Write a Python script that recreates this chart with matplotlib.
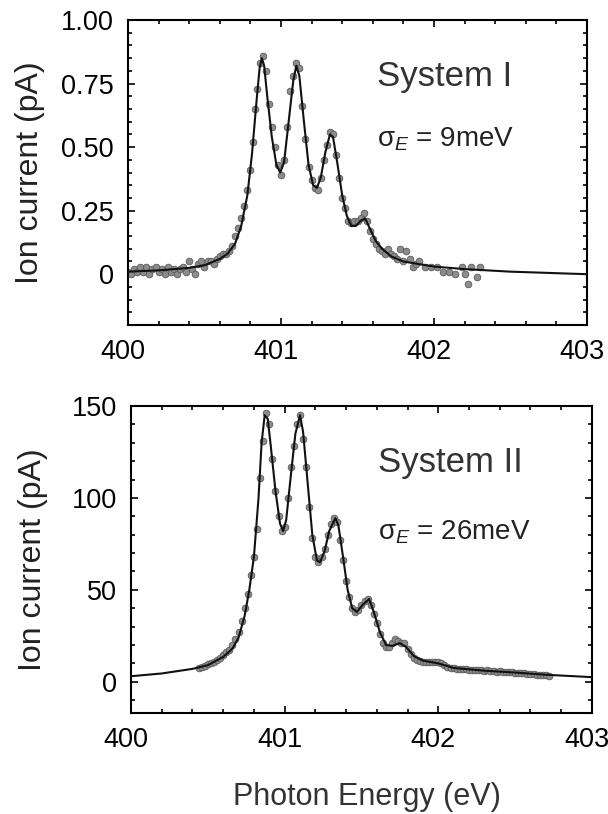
import numpy as np
import matplotlib
matplotlib.use("Agg")
import matplotlib.pyplot as plt
import matplotlib.transforms as mtrans
from matplotlib.ticker import MultipleLocator, FixedLocator

plt.rcParams['font.family'] = ['Liberation Sans', 'DejaVu Sans']
plt.rcParams['mathtext.fontset'] = 'custom'
plt.rcParams['mathtext.rm'] = 'Liberation Sans'
plt.rcParams['mathtext.it'] = 'Liberation Sans:italic'

# System I, measured points (photon energy in eV, ion current in pA)
e1_pts = [400.00, 400.02, 400.04, 400.06, 400.08, 400.10, 400.12, 400.14, 400.16, 400.18,
          400.20, 400.22, 400.24, 400.26, 400.28, 400.30, 400.32, 400.34, 400.36, 400.38,
          400.40, 400.42, 400.44, 400.46, 400.48, 400.50, 400.52, 400.54, 400.56, 400.58,
          400.60, 400.62, 400.64, 400.66, 400.68, 400.70, 400.72, 400.74, 400.76, 400.78,
          400.80, 400.82, 400.83, 400.84, 400.86, 400.88, 400.90, 400.92, 400.94, 400.96,
          400.98, 401.00, 401.02, 401.04, 401.06, 401.08, 401.10, 401.12, 401.14, 401.16,
          401.18, 401.20, 401.22, 401.24, 401.26, 401.28, 401.30, 401.32, 401.34, 401.36,
          401.38, 401.40, 401.42, 401.44, 401.46, 401.48, 401.50, 401.52, 401.54, 401.56,
          401.58, 401.60, 401.62, 401.64, 401.66, 401.68, 401.70, 401.72, 401.74, 401.76,
          401.78, 401.80, 401.82, 401.84, 401.86, 401.88, 401.90, 401.94, 401.98, 402.02,
          402.06, 402.10, 402.14, 402.18, 402.20, 402.22, 402.24, 402.28, 402.30]
i1_pts = [0.01, 0.00, 0.02, 0.01, 0.03, 0.01, 0.03, 0.00, 0.02, 0.03,
          0.01, 0.02, 0.00, 0.03, 0.01, 0.02, 0.00, 0.02, 0.03, 0.01,
          0.05, 0.02, 0.00, 0.04, 0.05, 0.03, 0.05, 0.05, 0.04, 0.06,
          0.07, 0.08, 0.08, 0.09, 0.11, 0.15, 0.18, 0.22, 0.27, 0.33,
          0.41, 0.52, 0.65, 0.73, 0.83, 0.86, 0.80, 0.67, 0.58, 0.50,
          0.43, 0.39, 0.45, 0.58, 0.72, 0.78, 0.83, 0.81, 0.66, 0.53,
          0.42, 0.37, 0.34, 0.33, 0.38, 0.45, 0.51, 0.56, 0.55, 0.47,
          0.38, 0.30, 0.26, 0.21, 0.20, 0.21, 0.21, 0.22, 0.24, 0.21,
          0.17, 0.14, 0.12, 0.10, 0.09, 0.08, 0.10, 0.08, 0.07, 0.06,
          0.10, 0.05, 0.09, 0.06, 0.03, 0.04, 0.05, 0.03, 0.03, 0.03,
          0.01, 0.01, 0.00, 0.03, 0.00, -0.04, 0.03, -0.01, 0.03]

# System I, fitted curve
e1_fit = [400.00, 400.20, 400.40, 400.50, 400.60, 400.65, 400.70, 400.74, 400.78, 400.81,
          400.84, 400.86, 400.875, 400.89, 400.91, 400.94, 400.97, 400.995, 401.02, 401.05,
          401.08, 401.10, 401.12, 401.15, 401.18, 401.21, 401.235, 401.26, 401.29, 401.32,
          401.34, 401.37, 401.40, 401.43, 401.46, 401.49, 401.52, 401.55, 401.58, 401.62,
          401.66, 401.72, 401.80, 401.90, 402.00, 402.20, 402.50, 403.00]
i1_fit = [0.010, 0.015, 0.025, 0.035, 0.060, 0.080, 0.120, 0.190, 0.310, 0.470,
          0.680, 0.810, 0.850, 0.820, 0.700, 0.540, 0.430, 0.400, 0.440, 0.600,
          0.760, 0.820, 0.780, 0.600, 0.430, 0.350, 0.340, 0.380, 0.480, 0.550,
          0.540, 0.430, 0.310, 0.230, 0.190, 0.190, 0.210, 0.220, 0.180, 0.130,
          0.100, 0.070, 0.050, 0.040, 0.030, 0.020, 0.010, 0.000]

# System II, measured points
e2_pts = [400.44, 400.46, 400.48, 400.50, 400.52, 400.54, 400.56, 400.58, 400.60, 400.62,
          400.64, 400.66, 400.68, 400.70, 400.72, 400.74, 400.76, 400.78, 400.80, 400.82,
          400.84, 400.86, 400.88, 400.90, 400.92, 400.94, 400.96, 400.98, 401.00, 401.02,
          401.04, 401.06, 401.08, 401.10, 401.12, 401.14, 401.16, 401.18, 401.20, 401.22,
          401.24, 401.26, 401.28, 401.30, 401.32, 401.34, 401.36, 401.38, 401.40, 401.42,
          401.44, 401.46, 401.48, 401.50, 401.52, 401.54, 401.56, 401.58, 401.60, 401.62,
          401.64, 401.66, 401.68, 401.70, 401.72, 401.74, 401.76, 401.78, 401.80, 401.82,
          401.84, 401.86, 401.88, 401.90, 401.92, 401.94, 401.96, 401.98, 402.00, 402.02,
          402.04, 402.06, 402.08, 402.10, 402.12, 402.14, 402.16, 402.18, 402.20, 402.22,
          402.24, 402.26, 402.28, 402.30, 402.32, 402.34, 402.36, 402.38, 402.40, 402.42,
          402.44, 402.46, 402.48, 402.50, 402.52, 402.54, 402.56, 402.58, 402.60, 402.62,
          402.64, 402.66, 402.68, 402.70, 402.72]
i2_pts = [7.5, 8.0, 8.5, 9.5, 10.0, 11.0, 12.0, 13.0, 14.5, 16.0,
          17.5, 20.0, 23.0, 27.0, 33.0, 40.0, 48.0, 58.0, 68.0, 83.0,
          111.0, 131.0, 146.0, 140.0, 121.0, 104.0, 90.0, 82.0, 84.0, 100.0,
          117.0, 128.0, 140.0, 145.0, 132.0, 117.0, 95.0, 78.0, 68.0, 65.0,
          68.0, 72.0, 80.0, 86.0, 89.0, 87.0, 77.0, 66.0, 55.0, 46.0,
          40.0, 38.0, 39.0, 42.0, 44.0, 45.0, 42.0, 37.0, 32.0, 26.0,
          21.0, 19.0, 19.0, 21.0, 23.0, 22.0, 21.0, 21.0, 18.0, 15.0,
          13.0, 12.0, 11.5, 11.0, 11.0, 11.0, 11.0, 11.0, 10.5, 10.0,
          9.0, 8.0, 7.5, 7.3, 7.0, 7.0, 6.8, 6.7, 6.5, 6.5,
          6.3, 6.3, 6.5, 6.0, 6.2, 5.8, 6.0, 5.5, 5.6, 5.4,
          5.2, 5.3, 5.5, 5.0, 4.8, 4.7, 4.5, 4.4, 4.2, 4.0,
          3.9, 3.8, 3.7, 3.5, 3.3]

# System II, fitted curve
e2_fit = [400.00, 400.20, 400.40, 400.50, 400.60, 400.66, 400.70, 400.74, 400.77, 400.80,
          400.83, 400.85, 400.87, 400.89, 400.91, 400.94, 400.97, 400.99, 401.01, 401.04,
          401.07, 401.10, 401.12, 401.15, 401.18, 401.21, 401.23, 401.26, 401.29, 401.33,
          401.35, 401.38, 401.41, 401.44, 401.47, 401.51, 401.55, 401.58, 401.62, 401.66,
          401.70, 401.75, 401.79, 401.84, 401.90, 402.00, 402.10, 402.30, 402.50, 402.70,
          403.00]
i2_fit = [3.0, 4.5, 7.0, 9.0, 13.5, 18.0, 24.0, 36.0, 50.0, 68.0,
          100.0, 130.0, 145.0, 143.0, 128.0, 104.0, 86.0, 82.0, 88.0, 112.0,
          135.0, 145.0, 136.0, 108.0, 80.0, 66.0, 65.0, 71.0, 82.0, 89.0,
          85.0, 68.0, 50.0, 40.0, 38.0, 42.0, 45.0, 38.0, 27.0, 20.0,
          19.5, 21.0, 19.0, 14.0, 11.5, 10.0, 7.5, 6.0, 5.0, 3.8,
          2.5]

labels = ["System I", "System II"]
sigmas = ["σ$_E$ = 9meV", "σ$_E$ = 26meV"]


def style_axis(fig, ax, ymin, yticks, yticklabels, ylim):
    ax.set_xlim(400, 403)
    ax.set_ylim(*ylim)
    ax.xaxis.set_major_locator(FixedLocator([400, 401, 402, 403]))
    ax.xaxis.set_minor_locator(MultipleLocator(0.2))
    ax.set_xticklabels(["400", "401", "402", "403"])
    ax.yaxis.set_major_locator(FixedLocator(yticks))
    ax.set_yticklabels(yticklabels)
    ax.yaxis.set_minor_locator(MultipleLocator(ymin))
    ax.tick_params(which="both", direction="in", top=True, right=True, width=1.2)
    ax.tick_params(which="major", length=5, labelsize=19.5, pad=10)
    ax.tick_params(which="minor", length=3)
    for s in ax.spines.values():
        s.set_linewidth(1.5)
    # x tick labels sit a little left of their ticks in the original
    shift = mtrans.ScaledTranslation(-5 / 100, 0, fig.dpi_scale_trans)
    for lab in ax.get_xticklabels():
        lab.set_transform(lab.get_transform() + shift)
    ax.set_ylabel("Ion current (pA)", fontsize=23, color="#222222")
    ax.yaxis.set_label_coords(-0.18, 0.5)


fig = plt.figure(figsize=(6.08, 8.14), dpi=100)

ax1 = fig.add_axes([0.2105, 0.6007, 0.755, 0.3747])
ax1.plot(e1_pts, i1_pts, "o", color="#8c8c8c", mec="#5a5a5a", mew=0.6, ms=4.8, zorder=2)
ax1.plot(e1_fit, i1_fit, "-", color="#111111", lw=1.5, zorder=3)
style_axis(fig, ax1, 0.05, [0, 0.25, 0.5, 0.75, 1.0],
           ["0", "0.25", "0.50", "0.75", "1.00"], (-0.2, 1.0))
ax1.text(0.543, 0.815, labels[0], transform=ax1.transAxes, fontsize=25,
         color="#333333", va="center")
ax1.text(0.543, 0.61, sigmas[0], transform=ax1.transAxes, fontsize=20,
         color="#222222", va="center")

ax2 = fig.add_axes([0.2155, 0.1241, 0.758, 0.3771])
ax2.plot(e2_pts, i2_pts, "o", color="#8c8c8c", mec="#5a5a5a", mew=0.6, ms=4.8, zorder=2)
ax2.plot(e2_fit, i2_fit, "-", color="#111111", lw=1.5, zorder=3)
style_axis(fig, ax2, 10, [0, 50, 100, 150], ["0", "50", "100", "150"], (-17, 150))
ax2.text(0.535, 0.815, labels[1], transform=ax2.transAxes, fontsize=25,
         color="#333333", va="center")
ax2.text(0.535, 0.59, sigmas[1], transform=ax2.transAxes, fontsize=20,
         color="#222222", va="center")

fig.text(367 / 608, 1 - 797 / 814, "Photon Energy (eV)", fontsize=22,
         color="#333333", ha="center", va="center")

fig.savefig("out.png", dpi=100)
